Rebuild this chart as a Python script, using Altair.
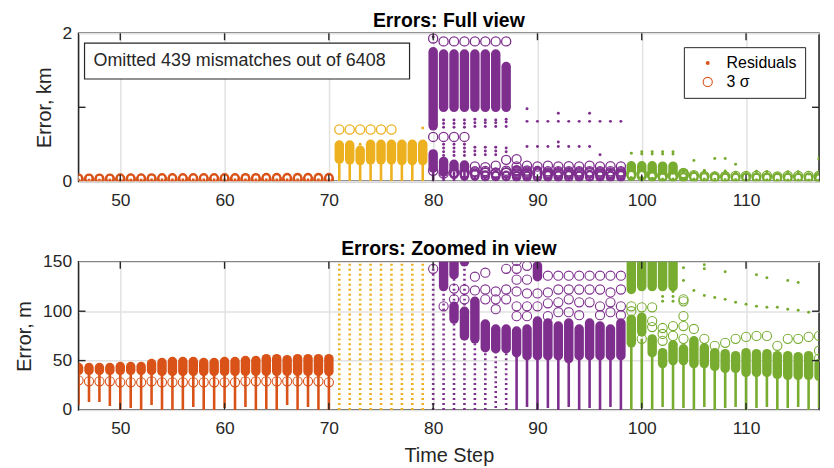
import altair as alt
import pandas as pd

# ---------------- data (values in metres) ----------------
X_TICKS = [50, 60, 70, 80, 90, 100, 110]
TOP_Y_TICKS = [0, 1, 2]
BOT_Y_TICKS = [0, 50, 100, 150]
GROUPS = ["orange", "yellow", "purple", "green"]
GROUP_COLORS = ["#D95319", "#EDB120", "#7E2F8E", "#77AC30"]
LEGEND_LABELS = ["Residuals", "3 σ"]
NOTE = "Omitted 439 mismatches out of 6408"

# orange block, steps 46..70
OR_STEPS = [46, 47, 48, 49, 50, 51, 52, 53, 54, 55, 56, 57, 58, 59, 60, 61, 62, 63, 64, 65, 66, 67, 68, 69, 70]
OR_STACK_LO = [40, 40, 40, 40, 40, 40, 40, 40, 39, 39, 39, 39, 39, 39, 39, 39, 39, 39, 39, 39, 39, 39, 39, 39, 39]
OR_STACK_HI = [43, 43, 43, 43, 44, 44, 44, 47, 48, 49, 49, 49, 48, 48, 49, 49, 50, 50, 52, 52, 51, 52, 52, 52, 52]
OR_SIGMA = [30, 29, 29, 29, 28, 28, 28, 29, 28, 28, 28, 28, 28, 28, 28, 28, 29, 29, 29, 29, 29, 29, 29, 29, 28]
OR_RES_LO = [5, 8, 8, 4, 0, 2, 0, 5, 0, 0, 0, 3, 0, 0, 2, 0, 3, 0, 1, 0, 5, 0, 3, 0, 0]
OR_RES_HI = [36, 36, 36, 36, 36, 36, 36, 37, 37, 37, 37, 37, 37, 37, 37, 37, 37, 37, 38, 38, 38, 38, 38, 38, 38]

# yellow block, steps 71..79
YE_STEPS = [71, 72, 73, 74, 75, 76, 77, 78, 79]
YE_STACK_LO = [300, 290, 280, 290, 290, 290, 280, 280, 280]
YE_STACK_HI = [490, 490, 420, 500, 500, 500, 500, 500, 500]
YE_RES_HI = [300, 290, 280, 290, 290, 290, 280, 280, 280]
YE_CIRCLES = [(71, 700), (72, 700), (73, 700), (74, 700), (75, 700), (76, 700)]
YE_DOTS = [(73, 500), (79, 720)]

# purple block, steps 80..98
PU_STACKS = [
    (80, 750, 1750), (80, 180, 370),
    (81, 1000, 1720), (81, 125, 270),
    (82, 1000, 1720), (82, 137, 230), (82, 92, 105),
    (83, 1000, 1720), (83, 150, 220), (83, 75, 100),
    (84, 1000, 1720), (84, 72, 110),
    (85, 1000, 1720), (85, 63, 87),
    (86, 1000, 1720), (86, 62, 82),
    (87, 1000, 1550), (87, 62, 82),
    (88, 58, 80), (89, 55, 82), (90, 135, 146), (90, 55, 90),
    (91, 55, 88), (92, 55, 85), (93, 52, 88), (94, 55, 82),
    (95, 55, 88), (96, 55, 85), (97, 55, 82), (98, 55, 88),
]
PU_CIRCLES = [
    (80, 1930), (80, 600), (80, 143),
    (81, 1890), (81, 600), (81, 105),
    (82, 1890), (82, 600), (82, 123), (82, 112),
    (83, 1890), (83, 600), (83, 122), (83, 112),
    (84, 1890), (84, 200), (84, 135), (84, 121),
    (85, 1890), (85, 190), (85, 139), (85, 122), (85, 112),
    (86, 1890), (86, 210), (86, 120), (86, 112), (86, 102),
    (87, 1890), (87, 290), (87, 143), (87, 122), (87, 112),
    (88, 300), (88, 200), (88, 151), (88, 143), (88, 132), (88, 120), (88, 105), (88, 95),
    (89, 210), (89, 146), (89, 132), (89, 118), (89, 105), (89, 95),
    (90, 200), (90, 118), (90, 105),
    (91, 210), (91, 136), (91, 119), (91, 108), (91, 95),
    (92, 200), (92, 136), (92, 122), (92, 109), (92, 99),
    (93, 205), (93, 136), (93, 122), (93, 112), (93, 99),
    (94, 200), (94, 136), (94, 122), (94, 109), (94, 96),
    (95, 210), (95, 136), (95, 122), (95, 109),
    (96, 200), (96, 136), (96, 122), (96, 105), (96, 96),
    (97, 205), (97, 136), (97, 119), (97, 109), (97, 99),
    (98, 200), (98, 136), (98, 122), (98, 105), (98, 96),
]
PU_DOTS = [
    (80, 1950),
    (81, 730), (81, 780), (81, 830), (81, 350), (81, 400), (81, 450), (81, 500),
    (82, 730), (82, 780), (82, 830), (82, 350), (82, 400), (82, 450), (82, 500),
    (83, 730), (83, 780), (83, 830), (83, 350), (83, 400), (83, 450), (83, 500),
    (84, 740), (84, 790), (84, 840), (84, 360), (84, 410), (84, 460),
    (85, 740), (85, 790), (85, 830), (85, 360), (85, 410), (85, 460),
    (86, 740), (86, 790), (86, 830), (86, 360), (86, 410), (86, 460),
    (87, 740), (87, 800), (87, 840), (87, 400), (87, 450),
    (89, 980), (89, 810), (89, 470), (90, 810), (90, 470), (91, 810), (91, 470),
    (92, 920), (92, 810), (92, 530), (92, 470), (93, 810), (93, 470),
    (94, 810), (94, 470), (95, 920), (95, 810), (95, 470), (96, 810), (96, 360),
    (97, 810), (98, 810),
]
PU_RES = [
    (80, 0, 180, "s"), (81, 0, 125, "s"), (82, 0, 137, "s"), (83, 0, 150, "s"),
    (84, 0, 72, "s"), (85, 0, 63, "s"), (86, 2, 62, "s"), (87, 0, 62, "s"),
    (88, 0, 58, "d"), (89, 3, 55, "d"), (90, 0, 55, "d"), (91, 2, 55, "d"),
    (92, 0, 55, "d"), (93, 3, 52, "d"), (94, 0, 55, "d"), (95, 2, 55, "d"),
    (96, 0, 55, "d"), (97, 3, 55, "d"), (98, 0, 55, "d"),
]

# green block, steps 99..117
GR_STACKS = [
    (99, 122, 210), (99, 68, 92), (100, 125, 210), (100, 79, 94),
    (101, 125, 210), (101, 58, 72), (102, 125, 205), (102, 47, 58),
    (103, 125, 205), (103, 50, 66), (104, 50, 62), (105, 47, 70),
    (106, 47, 63), (107, 44, 58), (108, 42, 57), (109, 42, 55),
    (110, 38, 58), (111, 38, 57), (112, 38, 57), (113, 36, 55),
    (114, 35, 55), (115, 35, 54), (116, 35, 55), (117, 34, 47),
]
GR_CIRCLES = [
    (99, 105), (99, 100), (100, 104), (100, 72), (101, 104), (101, 90), (101, 84),
    (102, 83), (102, 77), (102, 70), (103, 85), (103, 75),
    (104, 112), (104, 110), (104, 95), (104, 85), (104, 72),
    (105, 82), (106, 72), (107, 65), (108, 68), (109, 72), (110, 74), (111, 75),
    (112, 75), (113, 65), (114, 72), (115, 72), (116, 74), (117, 75), (117, 60), (117, 52),
]
GR_DOTS = [
    (99, 380), (100, 370), (100, 400), (101, 370), (101, 400), (102, 370), (102, 400),
    (103, 370), (103, 400), (105, 280), (107, 310), (108, 310), (109, 230),
    (117, 300), (117, 320), (104, 144), (104, 131), (106, 147), (106, 143),
    (108, 140), (111, 137), (112, 134), (114, 131), (115, 129),
    (105, 121), (106, 116), (107, 114), (108, 112), (109, 109), (110, 107),
    (111, 105), (112, 104), (113, 104), (114, 102), (115, 101), (116, 99),
    (102, 115), (102, 110), (103, 120), (103, 115), (103, 110),
]
GR_RES = [
    (99, 0, 68, "d"), (100, 2, 72, "d"), (101, 0, 58, "d"), (102, 3, 47, "d"),
    (103, 0, 50, "d"), (104, 2, 50, "d"), (105, 0, 47, "d"), (106, 3, 47, "d"),
    (107, 0, 44, "d"), (108, 2, 42, "d"), (109, 3, 42, "d"), (110, 0, 38, "d"),
    (111, 2, 38, "d"), (112, 3, 38, "d"), (113, 0, 36, "d"), (114, 2, 35, "d"),
    (115, 3, 35, "d"), (116, 0, 35, "d"), (117, 2, 34, "d"),
]

# ---------------- tables ----------------
stacks = (
    [dict(step=s, lo=a, hi=b, g="orange") for s, a, b in zip(OR_STEPS, OR_STACK_LO, OR_STACK_HI)]
    + [dict(step=s, lo=a, hi=b, g="yellow") for s, a, b in zip(YE_STEPS, YE_STACK_LO, YE_STACK_HI)]
    + [dict(step=s, lo=a, hi=b, g="purple") for s, a, b in PU_STACKS]
    + [dict(step=s, lo=a, hi=b, g="green") for s, a, b in GR_STACKS]
)
circles = (
    [dict(step=s, v=v, g="orange") for s, v in zip(OR_STEPS, OR_SIGMA)]
    + [dict(step=s, v=v, g="yellow") for s, v in YE_CIRCLES]
    + [dict(step=s, v=v, g="purple") for s, v in PU_CIRCLES]
    + [dict(step=s, v=v, g="green") for s, v in GR_CIRCLES]
)
dots = (
    [dict(step=s, v=v, g="yellow") for s, v in YE_DOTS]
    + [dict(step=s, v=v, g="purple") for s, v in PU_DOTS]
    + [dict(step=s, v=v, g="green") for s, v in GR_DOTS]
)
res = (
    [dict(step=s, lo=a, hi=b, kind="d", g="orange") for s, a, b in zip(OR_STEPS, OR_RES_LO, OR_RES_HI)]
    + [dict(step=s, lo=0, hi=b, kind="s", g="yellow") for s, b in zip(YE_STEPS, YE_RES_HI)]
    + [dict(step=s, lo=a, hi=b, kind=k, g="purple") for s, a, b, k in PU_RES]
    + [dict(step=s, lo=a, hi=b, kind=k, g="green") for s, a, b, k in GR_RES]
)
stacks_df = pd.DataFrame(stacks)
circles_df = pd.DataFrame(circles)
dots_df = pd.DataFrame(dots)
res_df = pd.DataFrame(res)

AX = "#262626"
FONT = "Liberation Sans"
W, H = 745, 149


def panel(K, ymax, yticks, ytitle, title, top):
    xscale = alt.Scale(domain=[46, 117], nice=False, zero=False)
    yscale = alt.Scale(domain=[0, ymax], nice=False, zero=True)
    color = alt.Color("g:N", scale=alt.Scale(domain=GROUPS, range=GROUP_COLORS), legend=None)
    common = dict(grid=True, gridColor="#e2e2e2", gridWidth=1.5, domain=False, ticks=False,
                  labelFont=FONT, labelFontSize=17.5, labelColor=AX,
                  titleFont=FONT, titleFontSize=20, titleColor=AX, titleFontWeight="normal")
    xtitle = "Time Step" if not top else ""
    X = alt.X("step:Q", scale=xscale, title=xtitle,
              axis=alt.Axis(values=X_TICKS, labelPadding=10, titlePadding=8, **common))
    Y = alt.Y("yv:Q", scale=yscale, title=ytitle,
              axis=alt.Axis(values=yticks, format="d", labelPadding=7, titlePadding=8, **common))
    Y2 = alt.Y2("yv2:Q")

    seg_calc = dict(yv=f"datum.lo / {K}", yv2=f"datum.hi / {K}")
    pt_calc = dict(yv=f"datum.v / {K}")

    layers = []
    layers.append(
        alt.Chart(stacks_df).transform_calculate(**seg_calc)
        .mark_rule(strokeWidth=9.5, strokeCap="round", clip=True)
        .encode(x=X, y=Y, y2=Y2, color=color)
    )
    if top:
        layers.append(
            alt.Chart(stacks_df).transform_filter("datum.hi - datum.lo < 60")
            .transform_calculate(**seg_calc)
            .mark_rule(strokeWidth=5, strokeCap="round", clip=True, color="white")
            .encode(x=X, y=Y, y2=Y2)
        )
    layers.append(
        alt.Chart(res_df).transform_filter("datum.kind == 'd'").transform_calculate(**seg_calc)
        .mark_rule(strokeWidth=2.6, clip=True)
        .encode(x=X, y=Y, y2=Y2, color=color)
    )
    sparse_props = dict(strokeWidth=2.6, clip=True)
    if not top:
        sparse_props["strokeDash"] = [2, 3]
    layers.append(
        alt.Chart(res_df).transform_filter("datum.kind == 's'").transform_calculate(**seg_calc)
        .mark_rule(**sparse_props)
        .encode(x=X, y=Y, y2=Y2, color=color)
    )
    layers.append(
        alt.Chart(circles_df).transform_calculate(**pt_calc)
        .mark_point(size=85, strokeWidth=1.3 if top else 1.1, filled=False, clip=True, opacity=1)
        .encode(x=X, y=Y, color=color)
    )
    layers.append(
        alt.Chart(dots_df).transform_calculate(**pt_calc)
        .mark_circle(size=9, clip=True, opacity=1)
        .encode(x=X, y=Y, color=color)
    )
    # inward tick marks (MATLAB style box)
    xt = pd.DataFrame({"step": X_TICKS})
    yt = pd.DataFrame({"yv": yticks[1:-1]})
    layers += [
        alt.Chart(xt).mark_rule(color=AX, strokeWidth=1.4).encode(x=X, y=alt.value(0), y2=alt.value(7)),
        alt.Chart(xt).mark_rule(color=AX, strokeWidth=1.4).encode(x=X, y=alt.value(H - 7), y2=alt.value(H)),
        alt.Chart(yt).mark_rule(color=AX, strokeWidth=1.4).encode(y=Y, x=alt.value(0), x2=alt.value(7)),
        alt.Chart(yt).mark_rule(color=AX, strokeWidth=1.4).encode(y=Y, x=alt.value(W - 7), x2=alt.value(W)),
    ]
    if top:
        note_df = pd.DataFrame({"label": [NOTE]})
        layers.append(
            alt.Chart(note_df).mark_rect(fill="white", stroke=AX, strokeWidth=1.2)
            .encode(x=alt.value(6), x2=alt.value(333), y=alt.value(10), y2=alt.value(46))
        )
        layers.append(
            alt.Chart(note_df).mark_text(align="left", baseline="middle", fontSize=18, font=FONT, color=AX)
            .encode(x=alt.value(15), y=alt.value(28), text="label:N")
        )
        leg_df = pd.DataFrame({"lab": LEGEND_LABELS, "step": [200, 200], "yv": [-5, -5]})
        lg = alt.Legend(title=None, orient="top-right", offset=14)
        layers.append(
            alt.Chart(leg_df).mark_point(filled=True, clip=True, strokeWidth=1.1, opacity=1)
            .encode(
                x=X, y=Y,
                shape=alt.Shape("lab:N", scale=alt.Scale(domain=LEGEND_LABELS, range=["circle", "circle"]), legend=lg),
                size=alt.Size("lab:N", scale=alt.Scale(domain=LEGEND_LABELS, range=[8, 85]), legend=lg),
                fill=alt.Fill("lab:N", scale=alt.Scale(domain=LEGEND_LABELS, range=["#D95319", "transparent"]), legend=lg),
                stroke=alt.Stroke("lab:N", scale=alt.Scale(domain=LEGEND_LABELS, range=["#D95319", "#D95319"]), legend=lg),
            )
        )
    return alt.layer(*layers).properties(width=W, height=H, title=alt.TitleParams(text=title))


top = panel(1000, 2, TOP_Y_TICKS, "Error, km", "Errors: Full view", True)
bottom = panel(1, 150, BOT_Y_TICKS, "Error, m", "Errors: Zoomed in view", False)

chart = (
    alt.vconcat(top, bottom, spacing=28)
    .resolve_scale(x="independent", y="independent")
    .resolve_legend(shape="independent", size="independent", fill="independent", stroke="independent")
    .properties(padding={"left": 6, "top": 0, "right": 5, "bottom": 0}, background="white")
    .configure_view(stroke=AX, strokeWidth=1.6)
    .configure_title(font=FONT, fontSize=19.5, fontWeight="bold", color="black", offset=-7, anchor="middle")
    .configure_legend(
        strokeColor=AX, fillColor="white", padding=8, labelFont=FONT, labelFontSize=16,
        labelColor="black", symbolStrokeWidth=1.1, rowPadding=3, labelOffset=11, symbolOffset=8,
    )
)

chart.save("out.html", embed_options={"renderer": "svg", "actions": False})
